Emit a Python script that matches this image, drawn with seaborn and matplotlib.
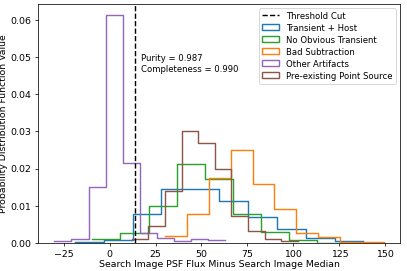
import numpy as np
import seaborn as sns
import matplotlib
matplotlib.use("Agg")
import matplotlib.pyplot as plt
from matplotlib.lines import Line2D
from matplotlib.patches import Patch

# bin edges (10 bins each) and density values
host_edges = np.linspace(-18.9, 138.1, 11)
host_dens = [0.00027, 0.0008, 0.0079, 0.0144, 0.0145, 0.0113, 0.0071, 0.0039, 0.0013, 0.00046]

none_edges = np.linspace(-9.4, 143.6, 11)
none_dens = [0.0010, 0.0027, 0.0099, 0.0212, 0.0171, 0.0079, 0.0030, 0.0009, 0.0001, 0.0001]

badsub_edges = np.linspace(30.1, 149.3, 11)
badsub_dens = [0.0019, 0.0079, 0.0176, 0.0250, 0.0160, 0.0091, 0.0027, 0.0016, 0.0004, 0.0002]

artifact_edges = np.linspace(-30.0, 63.0, 11)
artifact_dens = [0.00054, 0.0010, 0.0151, 0.0612, 0.0216, 0.0028, 0.00135, 0.00046, 0.0010, 0.0007]

preexist_edges = np.linspace(12.0, 102.5, 11)
preexist_dens = [0.0012, 0.0045, 0.0139, 0.0302, 0.0268, 0.0200, 0.0073, 0.0032, 0.0010, 0.0005]

threshold = 14
purity = 0.987
completeness = 0.990

pal = sns.color_palette("tab10")
series = [
    ("Transient + Host", host_edges, host_dens, pal[0]),
    ("No Obvious Transient", none_edges, none_dens, pal[2]),
    ("Bad Subtraction", badsub_edges, badsub_dens, pal[1]),
    ("Other Artifacts", artifact_edges, artifact_dens, pal[4]),
    ("Pre-existing Point Source", preexist_edges, preexist_dens, pal[5]),
]

fig, ax = plt.subplots(figsize=(6, 4), dpi=407 / 6)

for name, edges, dens, col in series:
    centers = (edges[:-1] + edges[1:]) / 2
    sns.histplot(x=centers, weights=dens, bins=list(edges), element="step", fill=False,
                 color=col, linewidth=1.5, ax=ax)

ax.axvline(threshold, color="black", linestyle="--", linewidth=1.5)
ax.text(17, 0.0508, f"Purity = {purity:.3f}\nCompleteness = {completeness:.3f}",
        va="top", ha="left", fontsize=9)

ax.set_xlim(-39, 158)
ax.set_ylim(0, 0.0643)
ax.set_xlabel("Search Image PSF Flux Minus Search Image Median", labelpad=1)
ax.set_ylabel("Probability Distribution Function Value", labelpad=2)

handles = [Line2D([0], [0], color="black", linestyle="--", linewidth=1.5)]
handles += [Patch(facecolor="none", edgecolor=c, linewidth=1.5) for _, _, _, c in series]
labels = ["Threshold Cut"] + [s[0] for s in series]
ax.legend(handles, labels, loc="upper right", fontsize=9, labelspacing=0.35)

plt.subplots_adjust(left=0.093, right=0.983, top=0.985, bottom=0.103)
plt.savefig("out.png")
